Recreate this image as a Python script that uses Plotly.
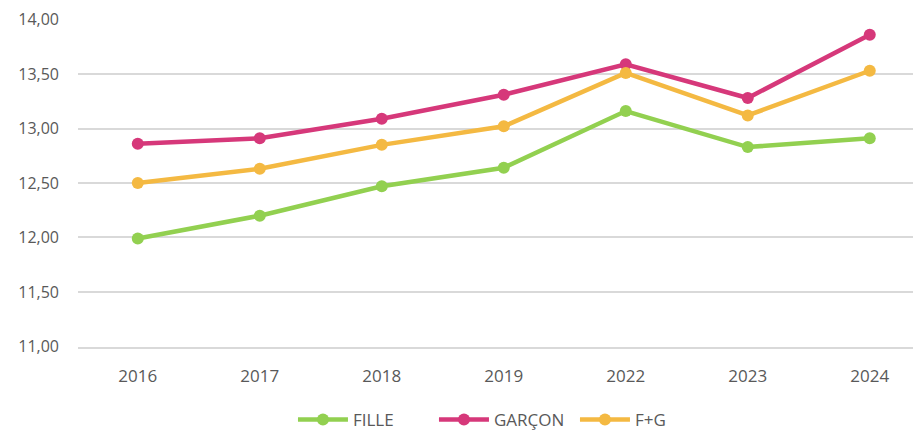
import plotly.graph_objects as go

years = ["2016", "2017", "2018", "2019", "2022", "2023", "2024"]
fille = [11.99, 12.20, 12.47, 12.64, 13.16, 12.83, 12.91]
garcon = [12.86, 12.91, 13.09, 13.31, 13.59, 13.28, 13.86]
fg = [12.50, 12.63, 12.85, 13.02, 13.51, 13.12, 13.53]

series = [("FILLE", fille, "#92D050"), ("GARÇON", garcon, "#D6387A"), ("F+G", fg, "#F4B942")]

fig = go.Figure()
for name, vals, col in series:
    fig.add_trace(go.Scatter(x=years, y=vals, name=name, mode="lines+markers",
                             line=dict(color=col, width=4.5),
                             marker=dict(color=col, size=12)))

fig.update_layout(
    width=913, height=422,
    margin=dict(l=70, r=0, t=11, b=83, autoexpand=False),
    paper_bgcolor="white", plot_bgcolor="white",
    separators=", ",
    font=dict(family="Open Sans, Lato, sans-serif", color="#595959", size=15),
    xaxis=dict(type="category", range=[-0.49, 6.42], showgrid=False, zeroline=False,
               showline=True, linecolor="#D9D9D9", linewidth=1.5,
               ticks="", automargin=False, ticklabelstandoff=13,
               tickfont=dict(size=17, color="#595959")),
    yaxis=dict(range=[10.995, 14.005], tickvals=[11, 11.5, 12, 12.5, 13, 13.5, 14],
               tickformat=".2f", showgrid=True,
               gridcolor="#D9D9D9", gridwidth=1.5, zeroline=False, showline=False,
               ticks="", automargin=False, ticklabelstandoff=18,
               tickfont=dict(size=16, color="#595959")),
    legend=dict(orientation="h", x=0.255, xanchor="left", y=-0.2226, yanchor="middle",
                font=dict(size=17, color="#595959"), itemwidth=50, traceorder="normal",
                entrywidth=76, entrywidthmode="pixels"),
    showlegend=True,
)

fig.write_html("out.html")
